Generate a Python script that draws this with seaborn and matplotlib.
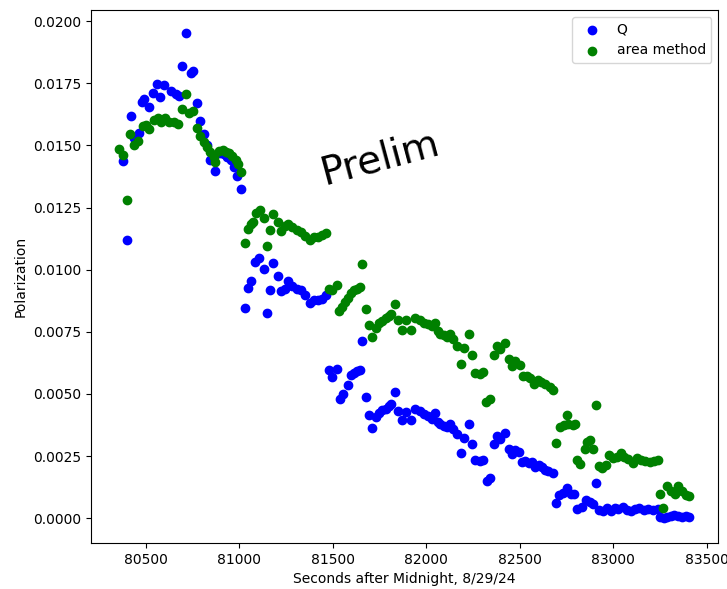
import matplotlib
matplotlib.use("Agg")
import matplotlib.pyplot as plt
import seaborn as sns
import pandas as pd

# ---- data ----
q_time = [
    80379, 80399, 80420, 80434, 80461, 80477, 80491, 80518, 80537, 80557,
    80576, 80598, 80634, 80660, 80678, 80691, 80714, 80740, 80753, 80772,
    80790, 80811, 80826, 80845, 80870, 80895, 80915, 80936, 80954, 80972,
    80988, 81009,
    81029, 81046, 81064, 81082, 81105, 81129, 81146, 81164, 81182, 81204,
    81225, 81242, 81260, 81283, 81306, 81327, 81349, 81377, 81399, 81420,
    81444, 81462,
    81479, 81497, 81520, 81538, 81556, 81581, 81595, 81613, 81631, 81645,
    81654, 81675, 81693, 81711, 81729, 81746, 81764, 81782, 81800, 81812,
    81832, 81848, 81871, 81894, 81916, 81942, 81965, 81987, 82008, 82031,
    82049, 82061, 82076, 82093, 82112, 82125, 82143, 82165, 82186, 82204,
    82227, 82245, 82263, 82286, 82304, 82324, 82343, 82361, 82379, 82397,
    82423, 82441, 82459, 82477, 82494, 82512, 82530, 82548, 82566, 82583,
    82601, 82619, 82637, 82654, 82678, 82696, 82713, 82734, 82753, 82774,
    82792, 82809, 82833, 82856, 82874, 82892, 82909, 82927, 82948, 82969,
    82988, 83009, 83027, 83051, 83074, 83096, 83117, 83141, 83164, 83186,
    83213, 83240, 83252, 83270, 83289, 83308, 83328, 83350, 83370, 83390,
    83408,
]
q_values = [
    0.01438, 0.01119, 0.01618, 0.01528, 0.01550, 0.01675, 0.01685, 0.01653, 0.01711, 0.01749,
    0.01695, 0.01742, 0.01719, 0.01706, 0.01698, 0.01819, 0.01953, 0.01790, 0.01800, 0.01669,
    0.01599, 0.01545, 0.01500, 0.01440, 0.01397, 0.01470, 0.01465, 0.01454, 0.01441, 0.01414,
    0.01377, 0.01323,
    0.00844, 0.00928, 0.00955, 0.01031, 0.01049, 0.01001, 0.00824, 0.00920, 0.01025, 0.00974,
    0.00915, 0.00924, 0.00955, 0.00934, 0.00924, 0.00917, 0.00897, 0.00864, 0.00880, 0.00877,
    0.00884, 0.00897,
    0.00596, 0.00569, 0.00602, 0.00478, 0.00499, 0.00535, 0.00575, 0.00585, 0.00593, 0.00598,
    0.00713, 0.00486, 0.00414, 0.00365, 0.00408, 0.00424, 0.00435, 0.00441, 0.00451, 0.00459,
    0.00508, 0.00432, 0.00394, 0.00428, 0.00397, 0.00441, 0.00432, 0.00421, 0.00410, 0.00401,
    0.00424, 0.00388, 0.00378, 0.00370, 0.00367, 0.00378, 0.00357, 0.00338, 0.00263, 0.00321,
    0.00378, 0.00298, 0.00236, 0.00231, 0.00236, 0.00150, 0.00160, 0.00298, 0.00330, 0.00317,
    0.00341, 0.00280, 0.00258, 0.00274, 0.00267, 0.00227, 0.00231, 0.00223, 0.00227, 0.00206,
    0.00213, 0.00206, 0.00196, 0.00190, 0.00182, 0.00062, 0.00093, 0.00102, 0.00120, 0.00099,
    0.00097, 0.00039, 0.00045, 0.00072, 0.00066, 0.00056, 0.00142, 0.00032, 0.00027, 0.00041,
    0.00031, 0.00041, 0.00038, 0.00045, 0.00035, 0.00031, 0.00038, 0.00041, 0.00035, 0.00038,
    0.00035, 0.00038, 0.00005, 0.00000, 0.00004, 0.00008, 0.00011, 0.00008, 0.00006, 0.00008,
    0.00004,
]

area_time = [
    80357, 80379, 80399, 80416, 80437, 80459, 80482, 80500, 80518, 80544,
    80562, 80580, 80601, 80624, 80651, 80672, 80691, 80714, 80731, 80753,
    80772, 80790, 80808, 80826, 80844, 80862, 80872, 80892, 80910, 80927,
    80945, 80963, 80981, 80993, 81011,
    81029, 81046, 81064, 81075, 81088, 81111, 81129, 81146, 81164, 81182,
    81204, 81225, 81242, 81260, 81283, 81306, 81327, 81349, 81377, 81399,
    81420, 81444, 81462,
    81479, 81497, 81520, 81532, 81551, 81565, 81581, 81595, 81613, 81631,
    81645, 81654, 81675, 81693, 81711, 81729, 81746, 81764, 81782, 81800,
    81812, 81832, 81848, 81871, 81894, 81916, 81942, 81965, 81987, 82008,
    82031, 82049, 82061, 82076, 82093, 82112, 82125, 82143, 82165, 82186,
    82204, 82227, 82245, 82263, 82286, 82304, 82321, 82339, 82361, 82379,
    82397, 82419, 82442, 82460, 82477, 82503, 82518, 82539, 82557, 82575,
    82596, 82614, 82637, 82660, 82681, 82696, 82717, 82738, 82753, 82761,
    82784, 82797, 82806, 82824, 82850, 82859, 82874, 82892, 82909, 82927,
    82939, 82961, 82979, 82997, 83020, 83042, 83060, 83082, 83105, 83129,
    83147, 83172, 83195, 83218, 83240, 83252, 83268, 83290, 83311, 83334,
    83348, 83370, 83388, 83408,
]
area_values = [
    0.01484, 0.01461, 0.01282, 0.01548, 0.01500, 0.01518, 0.01577, 0.01581, 0.01568, 0.01602,
    0.01612, 0.01595, 0.01609, 0.01595, 0.01595, 0.01585, 0.01645, 0.01706, 0.01631, 0.01639,
    0.01572, 0.01537, 0.01514, 0.01494, 0.01474, 0.01454, 0.01434, 0.01478, 0.01481, 0.01474,
    0.01468, 0.01457, 0.01443, 0.01427, 0.01395,
    0.01108, 0.01162, 0.01183, 0.01192, 0.01229, 0.01242, 0.01210, 0.01095, 0.01159, 0.01226,
    0.01192, 0.01156, 0.01175, 0.01183, 0.01170, 0.01159, 0.01152, 0.01135, 0.01119, 0.01130,
    0.01132, 0.01139, 0.01146,
    0.00924, 0.00917, 0.00938, 0.00834, 0.00850, 0.00870, 0.00888, 0.00907, 0.00917, 0.00924,
    0.00931, 0.01021, 0.00840, 0.00777, 0.00730, 0.00767, 0.00786, 0.00794, 0.00804, 0.00813,
    0.00821, 0.00861, 0.00797, 0.00759, 0.00797, 0.00759, 0.00804, 0.00797, 0.00786, 0.00781,
    0.00773, 0.00786, 0.00754, 0.00743, 0.00736, 0.00730, 0.00740, 0.00723, 0.00692, 0.00620,
    0.00683, 0.00740, 0.00656, 0.00585, 0.00580, 0.00589, 0.00468, 0.00478, 0.00656, 0.00692,
    0.00679, 0.00705, 0.00639, 0.00612, 0.00633, 0.00616, 0.00571, 0.00571, 0.00566, 0.00542,
    0.00558, 0.00549, 0.00539, 0.00526, 0.00515, 0.00303, 0.00367, 0.00374, 0.00414, 0.00378,
    0.00374, 0.00378, 0.00236, 0.00220, 0.00280, 0.00307, 0.00314, 0.00280, 0.00455, 0.00209,
    0.00204, 0.00214, 0.00255, 0.00244, 0.00248, 0.00262, 0.00248, 0.00239, 0.00221, 0.00244,
    0.00235, 0.00231, 0.00228, 0.00231, 0.00235, 0.00096, 0.00042, 0.00130, 0.00109, 0.00099,
    0.00130, 0.00109, 0.00095, 0.00090,
]

series_labels = ["Q", "area method"]
series_colors = ["blue", "green"]

df = pd.concat([
    pd.DataFrame({"time": q_time, "pol": q_values, "series": series_labels[0]}),
    pd.DataFrame({"time": area_time, "pol": area_values, "series": series_labels[1]}),
], ignore_index=True)

fig = plt.figure(figsize=(7.27, 5.89), dpi=100)
ax = fig.add_axes([0.125, 0.078, 0.863, 0.905])

for lab, col in zip(series_labels, series_colors):
    sub = df[df["series"] == lab]
    sns.scatterplot(data=sub, x="time", y="pol", color=col, s=36,
                    edgecolor=col, linewidth=1.0, label=lab, ax=ax, zorder=2)

ax.set_xlim(80205, 83563)
ax.set_ylim(-0.001, 0.02045)
ax.set_xticks([80500, 81000, 81500, 82000, 82500, 83000, 83500])
ax.set_yticks([0.0, 0.0025, 0.005, 0.0075, 0.01, 0.0125, 0.015, 0.0175, 0.02])
ax.set_yticklabels(["0.0000", "0.0025", "0.0050", "0.0075", "0.0100",
                    "0.0125", "0.0150", "0.0175", "0.0200"])
ax.set_xlabel("Seconds after Midnight, 8/29/24")
ax.set_ylabel("Polarization")
ax.legend(loc="upper right")

ax.text(0.461, 0.722, "Prelim", transform=ax.transAxes, rotation=15,
        fontsize=28, ha="center", va="center", color="black")

fig.savefig("out.png", dpi=100)
